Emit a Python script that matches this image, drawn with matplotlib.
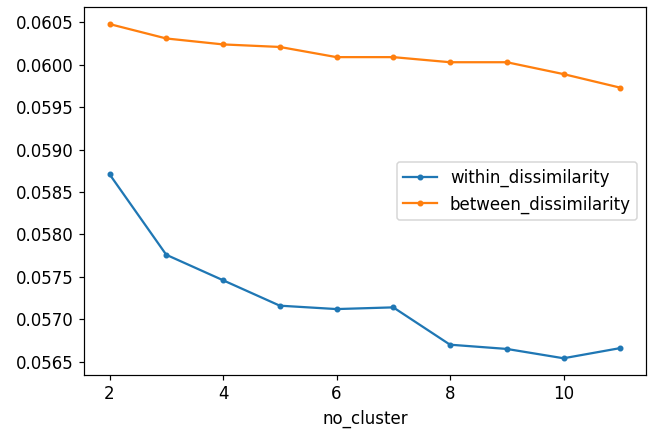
import matplotlib
matplotlib.use("Agg")
import matplotlib.pyplot as plt
import matplotlib.ticker as mt

no_cluster = [2, 3, 4, 5, 6, 7, 8, 9, 10, 11]
within_dissimilarity = [0.05871, 0.05776, 0.05746, 0.05716, 0.05712, 0.05714, 0.05670, 0.05665, 0.05654, 0.05666]
between_dissimilarity = [0.06048, 0.06031, 0.06024, 0.06021, 0.06009, 0.06009, 0.06003, 0.06003, 0.05989, 0.05973]

plt.rcParams['font.size'] = 11.1
DPI = 108
fig = plt.figure(figsize=(653 / DPI, 432 / DPI), dpi=DPI)
ax = fig.add_axes([0.1286, 0.132, 0.8604, 0.851])
ax.plot(no_cluster, within_dissimilarity, marker='.', color='#1f77b4', label='within_dissimilarity')
ax.plot(no_cluster, between_dissimilarity, marker='.', color='#ff7f0e', label='between_dissimilarity')
ax.set_xlabel('no_cluster')
ax.yaxis.set_major_formatter(mt.FormatStrFormatter('%.4f'))
ax.legend(loc='center right')
fig.savefig('out.png', dpi=DPI)
